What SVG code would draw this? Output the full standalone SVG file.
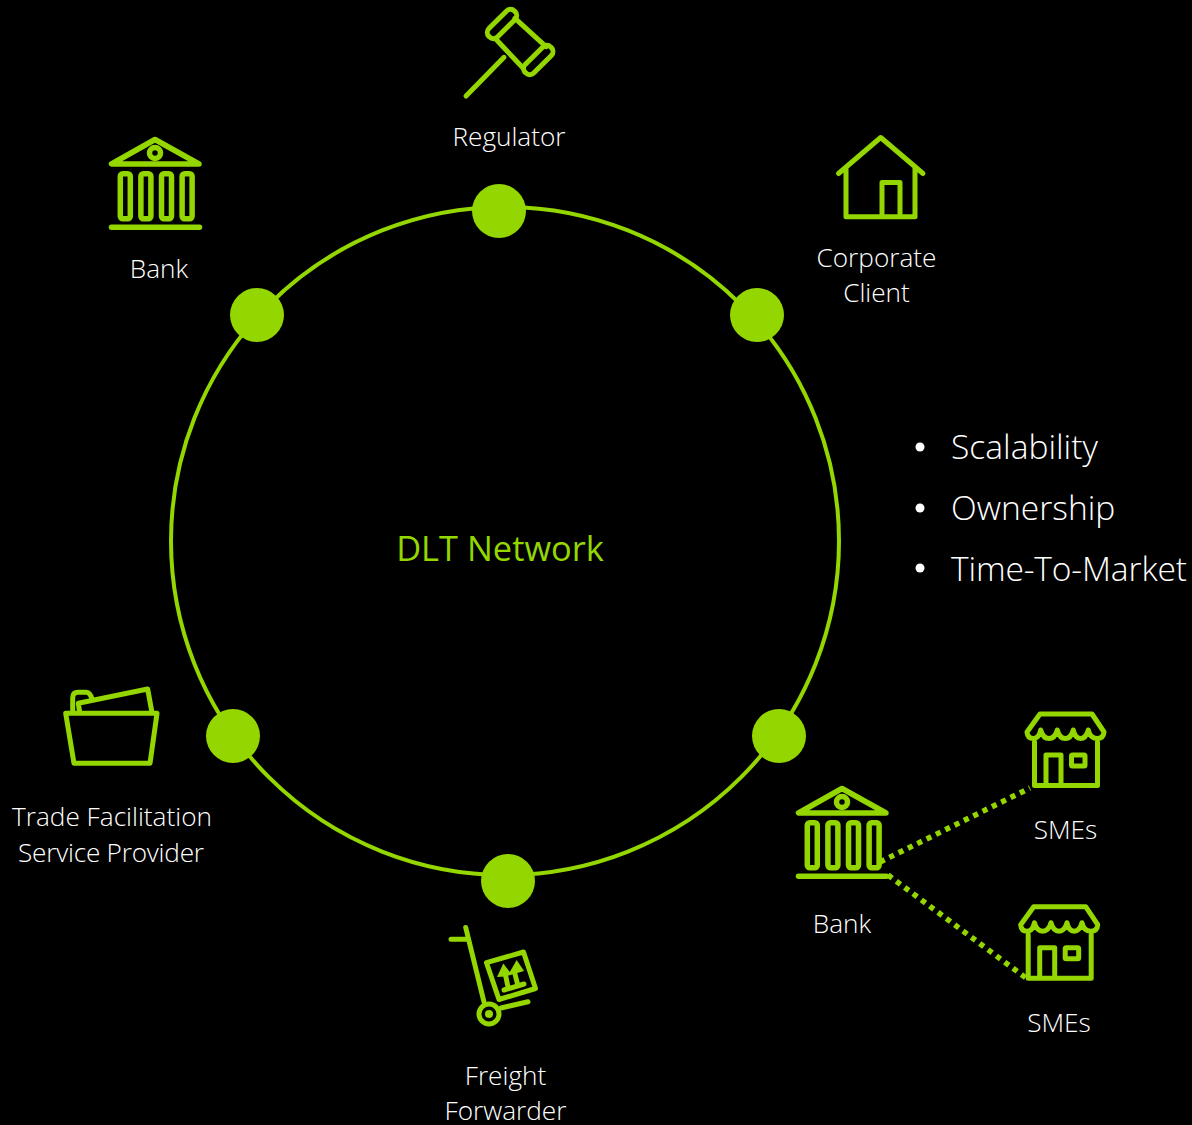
<svg xmlns="http://www.w3.org/2000/svg" width="1192" height="1125" viewBox="0 0 1192 1125">
<style>
.i{fill:none;stroke:#94d600;stroke-width:5;stroke-linecap:round;stroke-linejoin:round}
.f{fill:#94d600}
.t{font-family:"Open Sans","Noto Sans",sans-serif;font-weight:300;fill:#fff;text-anchor:middle;font-size:26.200px}
.b{font-family:"Open Sans","Noto Sans",sans-serif;font-weight:300;fill:#fff;font-size:33.600px}
.d{fill:none;stroke:#94d600;stroke-width:5.500;stroke-dasharray:5.200 5.200}
</style>
<defs>
<g id="bank" class="i" style="stroke-width:5.500">
<path d="M155 139.500L111.500 164H199Z"/>
<circle cx="155" cy="153" r="5.500"/>
<rect x="120.300" y="173.700" width="10" height="45" rx="2.500"/>
<rect x="140.900" y="173.700" width="10" height="45" rx="2.500"/>
<rect x="161.500" y="173.700" width="10" height="45" rx="2.500"/>
<rect x="182.100" y="173.700" width="10" height="45" rx="2.500"/>
<path d="M111.500 227.300H199.500"/>
</g>
<g id="store" class="i">
<path d="M1040 714H1092L1104 732Q1103.500 738.500 1097 738.500Q1090 738.500 1088.300 730Q1086 738.500 1080.500 738.500Q1075 738.500 1073.300 730Q1071 738.500 1065.300 738.500Q1059.500 738.500 1057.300 730Q1055 738.500 1049 738.500Q1043 738.500 1040.700 730Q1039 738.500 1033.500 738.500Q1027.500 738.500 1027 732Z"/>
<path d="M1034.500 742V785.500H1097.500V742"/>
<path d="M1046 785V755H1061V785"/>
<rect x="1071.500" y="755" width="13.500" height="11" rx="1"/>
</g>
</defs>
<rect width="1192" height="1125" fill="#000"/>
<g id="connectors">
<circle cx="505" cy="541" r="334" fill="none" stroke="#94d600" stroke-width="4"/>
<path class="d" d="M880 862L1030 788"/>
<path class="d" d="M888 875L1026 978"/>
</g>
<g id="node-top"><circle class="f" cx="499" cy="211" r="27"/></g>
<g id="node-upper-left"><circle class="f" cx="257" cy="315" r="27"/></g>
<g id="node-upper-right"><circle class="f" cx="757" cy="315" r="27"/></g>
<g id="node-lower-left"><circle class="f" cx="233" cy="736" r="27"/></g>
<g id="node-lower-right"><circle class="f" cx="779" cy="736" r="27"/></g>
<g id="node-bottom"><circle class="f" cx="508" cy="881" r="27"/></g>
<g id="center"><text x="500" y="561" font-family="'Open Sans','Noto Sans',sans-serif" font-weight="400" font-size="34.400" fill="#94d600" text-anchor="middle">DLT Network</text></g>
<g id="regulator">
<g class="i">
<path d="M466 96L504 57.300"/>
<path d="M515 18.300L546 46.700M495 38.300L523.300 68.300"/>
<rect x="-18" y="-6" width="36" height="12" rx="5.500" transform="translate(502 24) rotate(-45)"/>
<rect x="-18" y="-6" width="36" height="12" rx="5.500" transform="translate(538.300 60) rotate(-45)"/>
</g>
<text class="t" x="509" y="146">Regulator</text>
</g>
<g id="bank-top">
<use href="#bank"/>
<text class="t" x="159" y="278">Bank</text>
</g>
<g id="corporate-client">
<path class="i" d="M838.500 173.500L880.700 137.500L923 173.500M846 167V216.700H915V167M882 216V182.500H900V216"/>
<text class="t" x="876.500" y="267">Corporate</text>
<text class="t" x="876.500" y="302">Client</text>
</g>
<g id="trade-facilitation">
<path class="i" d="M65.700 713.300H157L150 763.300H74Z"/>
<path class="i" d="M79.500 711L78.300 703.300L147.700 689L151.700 711"/>
<path class="i" d="M72.700 711V698Q72.700 692.300 78 692.300H86Q90 692.300 92 699"/>
<text class="t" x="112" y="826" textLength="200">Trade Facilitation</text>
<text class="t" x="111" y="862" textLength="186">Service Provider</text>
</g>
<g id="freight-forwarder">
<g class="i">
<path d="M465.700 927.500L484 1002M451 939.300H467"/>
<circle cx="489" cy="1014" r="10"/>
<path d="M486.500 962.700L523.500 952L535.500 988.500L499 999.500Z"/>
<path d="M501 1008L528 1001.700"/>
<path d="M505.500 975L508 987M514.500 972L517.500 984M504 990L524 984"/>
</g>
<circle class="f" cx="489" cy="1014" r="4"/>
<path class="f" d="M497 977L503.300 963.500L509.800 972L516.700 960L524 971L512 974.500L505 976.500Z"/>
<text class="t" x="505.500" y="1085">Freight</text>
<text class="t" x="505.500" y="1120">Forwarder</text>
</g>
<g id="bank-lower">
<use href="#bank" transform="translate(687 649)"/>
<text class="t" x="842" y="933">Bank</text>
</g>
<g id="smes-top">
<use href="#store"/>
<text class="t" x="1065.500" y="839">SMEs</text>
</g>
<g id="smes-bottom">
<use href="#store" transform="translate(-6.300 192.700)"/>
<text class="t" x="1059" y="1032">SMEs</text>
</g>
<g id="benefits">
<circle cx="920" cy="447" r="4.500" fill="#fff"/>
<circle cx="920" cy="508" r="4.500" fill="#fff"/>
<circle cx="920" cy="568" r="4.500" fill="#fff"/>
<text class="b" x="951" y="459">Scalability</text>
<text class="b" x="951" y="520">Ownership</text>
<text class="b" x="951" y="581" textLength="236">Time-To-Market</text>
</g>
</svg>
